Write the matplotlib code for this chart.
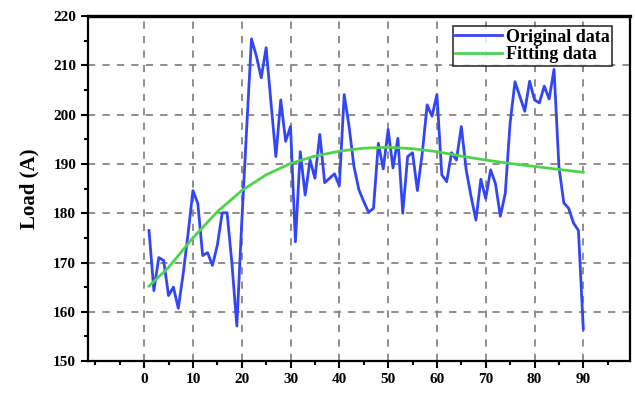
import numpy as np
import matplotlib.pyplot as plt
from matplotlib.ticker import MultipleLocator

# measured load, one sample per step
steps = list(range(1, 91))
load = [176.5, 164.3, 171.0, 170.4, 163.3, 165.0, 160.7, 167.7, 175.8, 184.6,
        182.0, 171.4, 172.0, 169.4, 173.5, 180.1, 180.1, 169.7, 157.1, 178.0,
        197.0, 215.4, 211.9, 207.5, 213.6, 202.4, 191.5, 203.0, 194.6, 197.6,
        174.2, 192.5, 183.7, 190.8, 187.1, 196.0, 186.2, 187.1, 188.0, 185.6,
        204.1, 197.6, 189.5, 184.8, 182.4, 180.2, 181.0, 194.2, 189.0, 197.0,
        189.2, 195.2, 180.0, 191.5, 192.3, 184.6, 192.2, 202.0, 199.7, 204.1,
        187.8, 186.4, 192.3, 190.8, 197.6, 188.8, 183.4, 178.6, 186.9, 183.0,
        188.8, 186.0, 179.4, 184.0, 198.3, 206.7, 203.7, 200.7, 206.8, 203.0,
        202.4, 205.8, 203.2, 209.2, 189.5, 182.1, 181.0, 178.0, 176.5, 156.5]

# fitted trend
fit_x = [1, 5, 10, 15, 20, 25, 30, 35, 40, 45, 50, 55, 60, 65, 70, 75, 80, 85, 90]
fit_y = [165.2, 169.0, 175.0, 180.3, 184.6, 187.8, 190.1, 191.6, 192.6, 193.2,
         193.4, 193.1, 192.5, 191.6, 190.8, 190.1, 189.5, 188.9, 188.3]

serif = ['Liberation Serif', 'DejaVu Serif']

fig = plt.figure(figsize=(6.35, 3.95), dpi=100)
ax = fig.add_axes([0.1386, 0.086, 0.853, 0.873])

ax.plot(steps, load, color='#3346f5', lw=2.0, label='Original data', zorder=3)
ax.plot(fit_x, fit_y, color='#4fd24f', lw=2.0, label='Fitting data', zorder=3)

ax.set_xlim(-11.5, 99.5)
ax.set_ylim(150, 220)
ax.xaxis.set_major_locator(MultipleLocator(10))
ax.xaxis.set_minor_locator(MultipleLocator(5))
ax.yaxis.set_major_locator(MultipleLocator(10))
ax.yaxis.set_minor_locator(MultipleLocator(5))

ax.set_xticks(np.arange(0, 91, 10))
ax.tick_params(which='major', direction='out', length=5, width=1.5)
ax.tick_params(which='minor', direction='out', length=3, width=1.5)
for lab in ax.get_xticklabels() + ax.get_yticklabels():
    lab.set_fontfamily(serif)
    lab.set_fontweight('bold')
    lab.set_fontsize(11)

ax.grid(True, which='major', color='#8a8580', ls=(0, (4, 4)), lw=1.3, zorder=0)
for s in ax.spines.values():
    s.set_linewidth(1.6)
ax.spines['top'].set_linewidth(2.4)

ax.set_ylabel('Load (A)', fontfamily=serif, fontweight='bold', fontsize=15,
              labelpad=10)

leg = ax.legend(loc='upper right', bbox_to_anchor=(0.968, 0.972),
                prop={'family': serif, 'weight': 'bold', 'size': 13},
                frameon=True, fancybox=False, edgecolor='black',
                handlelength=2.6, handletextpad=0.2, borderpad=0.15,
                labelspacing=0.05, borderaxespad=0)
leg.get_frame().set_linewidth(1.2)

fig.savefig('out.png', dpi=100)
